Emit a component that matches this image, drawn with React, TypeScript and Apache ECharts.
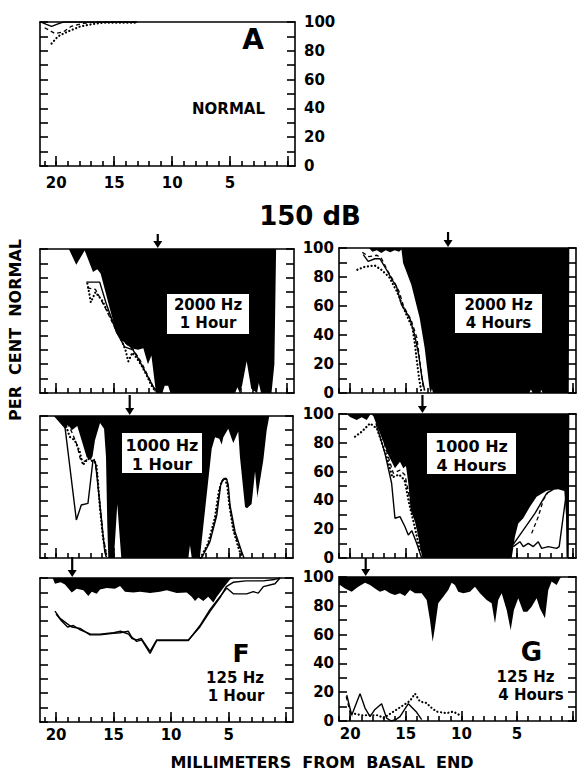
import React, { useEffect, useRef } from "react";
import * as echarts from "echarts";

type Pt = [number, number];

// ---------- axis ticks and labels ----------
const xMinorTicks = [0, 1, 2, 3, 4, 5, 6, 7, 8, 9, 10, 11, 12, 13, 14, 15, 16, 17, 18, 19, 20, 21];
const xMajorTicks = [0, 5, 10, 15, 20];
const xTickLabels = [5, 10, 15, 20];
const yTickLabels = [0, 20, 40, 60, 80, 100];

// ---------- Panel A (normal) ----------
const aSolid: Pt[] = [[21.3, 100], [20.9, 98.5], [20.4, 97], [19.9, 98.5], [19.4, 100], [13, 100]];
const aDashed: Pt[] = [[21.0, 96], [20.1, 92], [19.4, 93], [18.7, 97], [17.7, 99], [16.5, 100], [13, 100]];
const aDotted: Pt[] = [[20.4, 85], [19.85, 90], [19.1, 93], [17.9, 97], [16.8, 98.6], [16.0, 99.5], [13.0, 99.5]];

// ---------- Panel B (2000 Hz, 1 hour) ----------
const bEnvelope: Pt[] = [[21.4, 100], [18.9, 100], [18.26, 89], [17.53, 99], [16.81, 84], [16.44, 86], [16.15, 83], [14.79, 41.5], [14.36, 37], [13.5, 31], [12.9, 30], [12.45, 31], [12.05, 20], [11.75, 26], [11.35, 0], [10.8, 0], [10.6, 5], [10.3, 5], [10.1, 0], [4.5, 0], [4.3, 4], [4.1, 0], [3.9, 5], [3.5, 22], [3.1, 3], [2.6, 0], [2.45, 7], [2.25, 0], [1.35, 0], [1.1, 20], [0.95, 100], [-0.6, 100]];
const bSolid: Pt[] = [[17.39, 77], [16.23, 77], [15.66, 62], [14.79, 42.6], [14.07, 32], [13.35, 30], [12.9, 24], [11.6, 4.4], [11.24, 1]];
const bDashed: Pt[] = [[17.3, 73], [16.6, 72], [15.8, 60], [14.9, 45], [14.2, 36], [13.3, 30], [12.6, 21], [11.4, 1]];
const bDotted: Pt[] = [[17.3, 76], [17.15, 70], [17.0, 63], [16.6, 70], [16.0, 64], [15.5, 56], [15.0, 48], [14.5, 40], [14.0, 30], [13.75, 22], [13.4, 28], [13.0, 24], [12.6, 19], [12.2, 13], [11.8, 6], [11.4, 1]];
const bArrow = 11.2;

// ---------- Panel C (2000 Hz, 4 hours) ----------
const cEnvelope: Pt[] = [[21.0, 100], [18.3, 100], [18.0, 97.5], [17.6, 98.5], [17.2, 96.5], [16.8, 98.5], [16.4, 97], [16.0, 98.5], [15.6, 97.5], [15.39, 99], [15.24, 89.7], [14.5, 74.7], [13.75, 51.7], [13.3, 31], [12.85, 2.3], [12.75, 0], [12.65, 3], [12.55, 0], [3.9, 0], [3.75, 2.5], [3.6, 0], [3.0, 0], [2.85, 2.5], [2.7, 0], [0.35, 0], [0.3, 100], [-0.3, 100]];
const cSolid: Pt[] = [[18.82, 95.4], [18.38, 90.8], [17.78, 92.6], [17.33, 92.6], [16.73, 85], [16.14, 77], [15.84, 73.6], [15.39, 61], [14.64, 51.7], [14.2, 40], [13.84, 26.4], [13.54, 10.3], [13.3, 1.6]];
const cDashed: Pt[] = [[18.9, 97], [18.3, 94], [17.6, 95], [17.2, 93], [16.6, 84], [16.0, 76], [15.6, 70], [15.2, 60], [14.5, 50], [14.0, 38], [13.7, 20], [13.4, 2]];
const cDotted: Pt[] = [[19.35, 85], [18.7, 87], [17.8, 88], [17.2, 85], [16.5, 80], [15.8, 70], [15.0, 55], [14.4, 45], [14.2, 35], [14.0, 22], [13.8, 10], [13.6, 1]];
const cArrow = 11.2;

// ---------- Panel D (1000 Hz, 1 hour) ----------
const dEnvelope: Pt[] = [[21.4, 100], [20.2, 100], [19.23, 91], [18.94, 94], [18.64, 90], [18.16, 93], [17.78, 83], [17.34, 71], [16.99, 69], [16.82, 72], [16.62, 83], [16.18, 95], [15.83, 91], [15.66, 71], [15.55, 24], [15.46, 0], [14.97, 0], [14.68, 38], [14.33, 0], [8.5, 0], [8.36, 9], [8.2, 0], [7.5, 0], [6.47, 77], [6.18, 85], [5.81, 84], [5.6, 80], [5.46, 85], [5.03, 91], [4.73, 84], [4.59, 81], [4.16, 89], [4.01, 71], [3.57, 36], [3.4, 35], [3.0, 38], [2.7, 61], [2.5, 43], [1.98, 69], [1.69, 90], [1.46, 100], [-0.6, 100]];
const dSolidBase: Pt[] = [[19.25, 93.7], [18.24, 26.8], [17.81, 37.3], [17.23, 38.5], [16.79, 69], [16.59, 67.8], [16.21, 39.7], [15.77, 4.4], [15.63, 0.5]];
const dSolidApex: Pt[] = [[7.34, 0], [6.62, 11.5], [6.03, 30], [5.69, 51.4], [5.46, 55.6], [5.17, 55.6], [5.03, 51.4], [4.88, 37.3], [4.44, 18.5], [3.86, 4.4], [3.66, 0]];
const dDashedBase: Pt[] = [[19.0, 95], [18.6, 88], [18.2, 80], [17.9, 70], [17.5, 68], [17.0, 72], [16.7, 70], [16.45, 60], [16.25, 42], [15.95, 18], [15.6, 1]];
const dDashedApex: Pt[] = [[7.4, 0], [6.7, 11], [6.1, 29], [5.75, 50], [5.5, 56], [5.2, 56], [5.05, 50], [4.9, 36], [4.5, 18], [3.95, 5], [3.7, 0]];
const dDottedBase: Pt[] = [[19.11, 92.5], [18.82, 85.4], [18.38, 83], [17.95, 75], [17.66, 65.5], [17.23, 70], [16.79, 68], [16.5, 66.6], [16.36, 53.7], [16.21, 37.3], [15.92, 14], [15.63, 2]];
const dDottedApex: Pt[] = [[7.45, 0], [6.8, 10], [6.2, 28], [5.85, 47], [5.6, 54], [5.3, 56], [5.1, 50], [4.95, 38], [4.6, 20], [4.1, 6], [3.8, 0]];
const dArrow = 13.6;

// ---------- Panel E (1000 Hz, 4 hours) ----------
const eEnvelope: Pt[] = [[21.0, 100], [20.3, 100], [20.01, 98], [19.41, 95.8], [18.96, 97.7], [18.51, 95.8], [18.15, 100], [17.92, 98.6], [17.32, 86.6], [16.57, 71.5], [15.97, 62.3], [15.52, 66.9], [15.22, 62.3], [14.98, 63.9], [14.77, 51.9], [14.56, 33.3], [14.17, 25.2], [13.87, 14.8], [13.57, 2], [13.5, 0], [5.48, 0], [5.19, 14.8], [4.89, 24], [4.44, 27.6], [3.84, 35.6], [3.24, 42.6], [2.34, 46.7], [1.3, 47.7], [0.75, 46.5], [0.6, 30], [0.55, 0], [0.35, 0], [0.3, 100], [-0.3, 100]];
const eSolidBase: Pt[] = [[17.68, 93.5], [16.87, 72.7], [16.27, 51.9], [15.97, 27.6], [15.52, 28.7], [15.07, 21.7], [14.77, 16], [14.45, 19], [14.02, 10.2], [13.57, 0]];
const eSolidApex: Pt[] = [[5.34, 7.9], [4.74, 11.3], [4.44, 7.9], [3.99, 10.2], [3.54, 7.9], [3.09, 11.3], [2.79, 6.7], [2.19, 7.9], [1.44, 6.7], [1.21, 7.9], [0.85, 28.7], [0.55, 46]];
const eSolidApex2: Pt[] = [[5.34, 9.4], [4.44, 19.4], [3.39, 31], [2.34, 44.9], [1.74, 47.7]];
const eDashedBase: Pt[] = [[17.47, 93.5], [16.57, 70.4], [16.12, 58.8], [15.52, 61], [15.07, 57.6], [14.62, 40.3], [14.02, 24.1], [13.57, 3]];
const eDashedApex: Pt[] = [[3.69, 17.1], [3.09, 28.7], [2.64, 40.3], [2.19, 46]];
const eDottedBase: Pt[] = [[19.56, 84.3], [18.96, 87.7], [18.21, 93.5], [17.6, 90], [16.7, 70], [16.2, 56], [15.6, 58], [15.1, 54], [14.7, 38], [14.2, 22], [13.7, 4]];
const eArrow = 13.5;

// ---------- Panel F (125 Hz, 1 hour) ----------
const fEnvelope: Pt[] = [[21.4, 100], [20.3, 100], [20.1, 96], [19.6, 97], [19.23, 95.5], [18.64, 90], [18.21, 92.5], [17.63, 91.5], [17.2, 87.5], [16.9, 90.5], [16.47, 89], [16.18, 92], [15.6, 93], [14.88, 92.5], [14.44, 94.5], [14.01, 90.5], [13.29, 90], [12.7, 90.5], [11.83, 89.5], [10.97, 90.5], [10.38, 91.5], [9.51, 89.5], [8.64, 90], [8.21, 87], [7.92, 84], [7.63, 86.5], [7.2, 84], [6.77, 87], [6.33, 83], [6.03, 87], [5.46, 93], [4.88, 99], [4.59, 100], [-0.6, 100]];
const fSolid: Pt[] = [[20.1, 77], [19.66, 72], [19.08, 68.5], [18.64, 66], [17.92, 65], [17.05, 60.5], [16.18, 60.5], [15.03, 61.6], [14.44, 62], [13.72, 63], [13.43, 59], [12.99, 56], [12.56, 57], [11.83, 47.7], [11.25, 56.5], [10.38, 56.5], [8.5, 56.5], [7.49, 67], [6.62, 78], [5.75, 87], [5.17, 93], [4.59, 89], [3.43, 89], [2.85, 90.5], [2.42, 89.5], [1.98, 94], [0.97, 96], [0.53, 100]];
const fSolid2: Pt[] = [[20.0, 75], [19.5, 70], [19.0, 66], [18.5, 67], [17.9, 64], [17.0, 61], [16.2, 61], [15.0, 62], [14.4, 63], [13.7, 61], [13.4, 58], [13.0, 57], [12.6, 58], [11.83, 49], [11.25, 57], [8.5, 57], [7.5, 66], [6.6, 77], [5.7, 87], [5.2, 94], [4.6, 97], [3.5, 98], [2.0, 98], [1.0, 99], [0.5, 100]];
const fArrow = 18.6;

// ---------- Panel G (125 Hz, 4 hours) ----------
const gEnvelope: Pt[] = [[21.0, 94], [20.91, 94.4], [20.46, 92.1], [19.86, 89.8], [19.27, 93.3], [18.66, 96], [18.21, 94.4], [17.77, 92.1], [17.32, 89.8], [16.87, 91], [16.42, 88.7], [15.97, 87.5], [15.52, 88.7], [15.07, 86.8], [14.62, 91], [14.17, 88.7], [13.57, 88.7], [13.12, 84], [12.82, 70], [12.58, 55], [12.37, 65.5], [12.08, 81.7], [11.63, 86.3], [11.18, 91], [10.88, 96], [10.58, 94.4], [10.28, 89.8], [9.83, 88.7], [9.23, 89.8], [8.78, 93.3], [8.33, 88.7], [7.73, 84], [7.28, 81.7], [6.98, 67.8], [6.69, 84], [6.38, 88.7], [5.93, 77], [5.57, 63.2], [5.28, 77], [4.89, 85.2], [4.44, 75.9], [4.08, 75.9], [3.69, 79.4], [3.24, 85.2], [2.94, 78.2], [2.49, 71.3], [2.19, 91], [1.89, 96.8], [1.44, 94.4], [1.14, 99], [1.0, 100], [-0.3, 100]];
const gSolid: Pt[] = [[20.3, 18], [19.86, 4], [19.11, 19], [18.66, 9], [18.21, 3], [17.77, 8], [17.17, 12], [16.72, 2], [16.3, 0], [15.9, 1], [15.52, 3], [14.77, 12], [14.02, 6], [13.57, 1]];
const gDashed: Pt[] = [[20.35, 17], [20.1, 9], [19.8, 3]];
const gDotted: Pt[] = [[19.56, 5], [18.96, 4], [18.06, 4], [17.47, 4], [17.0, 2], [14.62, 14], [14.17, 19], [13.72, 13.5], [13.12, 12.5], [12.82, 10], [12.22, 6.5], [11.32, 5.5], [10.73, 6.5], [10.13, 4]];
const gArrow = 18.6;

const FONT = "'DejaVu Sans', Verdana, sans-serif";

interface PanelDef {
  left: number; top: number; width: number; height: number;
  xMin: number; xMax: number;
  envelope?: Pt[];
  solid: Pt[][]; dashed: Pt[][]; dotted: Pt[][];
  arrow?: number; arrowLen?: number;
  xLabels: boolean; xLabelMargin?: number;
  yLabels: "left" | "right" | null;
}

const panels: PanelDef[] = [
  { left: 40, top: 22, width: 255, height: 144, xMin: -0.6, xMax: 21.4, solid: [aSolid], dashed: [aDashed], dotted: [aDotted], xLabels: true, xLabelMargin: 9, yLabels: "right" },
  { left: 40, top: 249, width: 254, height: 144, xMin: -0.6, xMax: 21.4, envelope: bEnvelope, solid: [bSolid], dashed: [bDashed], dotted: [bDotted], arrow: bArrow, arrowLen: 14, xLabels: false, yLabels: null },
  { left: 339, top: 248, width: 237, height: 145, xMin: -0.3, xMax: 21.0, envelope: cEnvelope, solid: [cSolid], dashed: [cDashed], dotted: [cDotted], arrow: cArrow, arrowLen: 15, xLabels: false, yLabels: "left" },
  { left: 40, top: 416, width: 253, height: 142, xMin: -0.6, xMax: 21.4, envelope: dEnvelope, solid: [dSolidBase, dSolidApex], dashed: [dDashedBase, dDashedApex], dotted: [dDottedBase, dDottedApex], arrow: dArrow, arrowLen: 20, xLabels: false, yLabels: null },
  { left: 339, top: 414, width: 237, height: 144, xMin: -0.3, xMax: 21.0, envelope: eEnvelope, solid: [eSolidBase, eSolidApex, eSolidApex2], dashed: [eDashedBase, eDashedApex], dotted: [eDottedBase], arrow: eArrow, arrowLen: 18, xLabels: false, yLabels: "left" },
  { left: 40, top: 578, width: 253, height: 144, xMin: -0.6, xMax: 21.4, envelope: fEnvelope, solid: [fSolid, fSolid2], dashed: [], dotted: [], arrow: fArrow, arrowLen: 20, xLabels: true, xLabelMargin: 5, yLabels: null },
  { left: 339, top: 577, width: 237, height: 144, xMin: -0.3, xMax: 21.0, envelope: gEnvelope, solid: [gSolid], dashed: [gDashed], dotted: [gDotted], arrow: gArrow, arrowLen: 18, xLabels: true, xLabelMargin: 5, yLabels: "left" },
];

const lineCol = "#000";

function buildOption(): any {
  const grid: any[] = [];
  const xAxis: any[] = [];
  const yAxis: any[] = [];
  const series: any[] = [];
  const labelStyle = { color: "#000", fontFamily: FONT, fontWeight: "bold", fontSize: 15 };

  panels.forEach((p, i) => {
    grid.push({ left: p.left, top: p.top, width: p.width, height: p.height, show: !!p.envelope, backgroundColor: "#000", borderWidth: 0 });
    const baseX = { type: "value", gridIndex: i, min: p.xMin, max: p.xMax, inverse: true, splitLine: { show: false }, z: 5 };
    xAxis.push({
      ...baseX, position: "bottom",
      axisLine: { show: true, onZero: false, lineStyle: { color: lineCol, width: 1.6 } },
      axisTick: { show: true, inside: true, length: 5, customValues: xMinorTicks, lineStyle: { color: lineCol, width: 1.6 } },
      axisLabel: p.xLabels ? { show: true, customValues: xTickLabels, margin: p.xLabelMargin, ...labelStyle } : { show: false },
    });
    xAxis.push({
      ...baseX, position: "bottom",
      axisLine: { show: false, onZero: false },
      axisTick: { show: true, inside: true, length: 10, customValues: xMajorTicks, lineStyle: { color: lineCol, width: 1.6 } },
      axisLabel: { show: false },
    });
    xAxis.push({
      ...baseX, position: "top",
      axisLine: { show: true, onZero: false, lineStyle: { color: lineCol, width: 1.6 } },
      axisTick: { show: false }, axisLabel: { show: false },
    });
    const baseY = { type: "value", gridIndex: i, min: 0, max: 100, interval: 10, splitLine: { show: false }, z: 5 };
    yAxis.push({
      ...baseY, position: "left",
      axisLine: { show: true, onZero: false, lineStyle: { color: lineCol, width: 1.6 } },
      axisTick: { show: true, inside: true, length: 8, lineStyle: { color: lineCol, width: 1.6 } },
      axisLabel: p.yLabels === "left" ? { show: true, customValues: yTickLabels, margin: 5, ...labelStyle } : { show: false },
    });
    yAxis.push({
      ...baseY, position: "right",
      axisLine: { show: true, onZero: false, lineStyle: { color: lineCol, width: 1.6 } },
      axisTick: { show: true, inside: true, length: 8, lineStyle: { color: lineCol, width: 1.6 } },
      axisLabel: p.yLabels === "right" ? { show: true, customValues: yTickLabels, margin: 9, align: "left", ...labelStyle } : { show: false },
    });

    const xi = i * 3;
    const yi = i * 2;
    if (p.envelope) {
      series.push({
        type: "line", xAxisIndex: xi, yAxisIndex: yi, data: p.envelope, symbol: "none", silent: true, z: 1,
        lineStyle: { width: 0, opacity: 0 }, areaStyle: { color: "#fff", opacity: 1 },
      });
    }
    p.solid.forEach((d) => series.push({
      type: "line", xAxisIndex: xi, yAxisIndex: yi, data: d, symbol: "none", silent: true, z: 3,
      lineStyle: { color: lineCol, width: 1.4 },
    }));
    p.dashed.forEach((d) => series.push({
      type: "line", xAxisIndex: xi, yAxisIndex: yi, data: d, symbol: "none", silent: true, z: 3,
      lineStyle: { color: lineCol, width: 1.3, type: [4, 3] },
    }));
    p.dotted.forEach((d) => series.push({
      type: "line", xAxisIndex: xi, yAxisIndex: yi, data: d, symbol: "none", silent: true, z: 3,
      lineStyle: { color: lineCol, width: 2.2, type: [0.1, 3.6], cap: "round" },
    }));
    if (p.arrow !== undefined) {
      const len = p.arrowLen || 14;
      series.push({
        type: "custom", xAxisIndex: xi, yAxisIndex: yi, data: [[p.arrow, 100]], silent: true, z: 8, clip: false,
        renderItem: (_params: any, api: any) => {
          const c = api.coord([api.value(0), api.value(1)]);
          const tipY = c[1] - 1;
          return {
            type: "group",
            children: [
              { type: "line", shape: { x1: c[0], y1: tipY - len, x2: c[0], y2: tipY - 5 }, style: { stroke: "#000", lineWidth: 2.2 } },
              { type: "polygon", shape: { points: [[c[0] - 4.5, tipY - 7], [c[0] + 4.5, tipY - 7], [c[0], tipY]] }, style: { fill: "#000" } },
            ],
          };
        },
      });
    }
  });

  const font = (size: number) => `bold ${size}px ${FONT}`;
  const text = (t: string, x: number, y: number, size: number, extra: any = {}) => ({
    type: "text", x, y, z: 20, ...extra,
    style: { text: t, font: font(size), fill: "#000", textAlign: "center", textVerticalAlign: "middle", ...(extra.style || {}) },
  });
  const box = (x: number, y: number, w: number, h: number) => ({
    type: "rect", z: 19, shape: { x, y, width: w, height: h }, style: { fill: "#fff" },
  });

  const graphic: any[] = [
    text("150 dB", 310, 216, 26),
    text("PER  CENT  NORMAL", 15, 330, 16, { rotation: Math.PI / 2 }),
    text("MILLIMETERS  FROM  BASAL  END", 322, 762, 16),
    text("A", 253, 39, 28),
    text("NORMAL", 228.5, 109, 15),
    text("B", 251.5, 274.5, 22),
    box(167, 294, 82, 40),
    text("2000 Hz", 208, 304.5, 15),
    text("1 Hour", 208, 323, 15),
    text("C", 538, 273.5, 23),
    box(455, 294, 87, 39),
    text("2000 Hz", 498.5, 304.5, 15),
    text("4 Hours", 498.5, 323, 15),
    text("D", 254, 438, 26),
    box(122, 433, 80, 40),
    text("1000 Hz", 162, 445, 16),
    text("1 Hour", 162, 464.5, 16),
    text("E", 539.5, 438.5, 23),
    box(427, 433, 89, 41),
    text("1000 Hz", 471.5, 446, 16),
    text("4 Hours", 471.5, 465, 16),
    text("F", 241, 653.5, 25),
    text("125 Hz", 235, 678, 15),
    text("1 Hour", 236, 696, 15),
    text("G", 531.5, 651.5, 26),
    text("125 Hz", 525.5, 677, 15, { style: { backgroundColor: "#fff" } }),
    text("4 Hours", 531, 695, 15, { style: { backgroundColor: "#fff", padding: [0, 1] } }),
  ];

  return { animation: false, backgroundColor: "#fff", grid, xAxis, yAxis, series, graphic };
}

export default function App() {
  const ref = useRef<HTMLDivElement>(null);
  useEffect(() => {
    if (!ref.current) return;
    const chart = echarts.init(ref.current, null, { renderer: "svg" });
    chart.setOption(buildOption());
    return () => chart.dispose();
  }, []);
  return <div ref={ref} style={{ position: "absolute", left: 0, top: 0, width: 581, height: 773 }} />;
}
